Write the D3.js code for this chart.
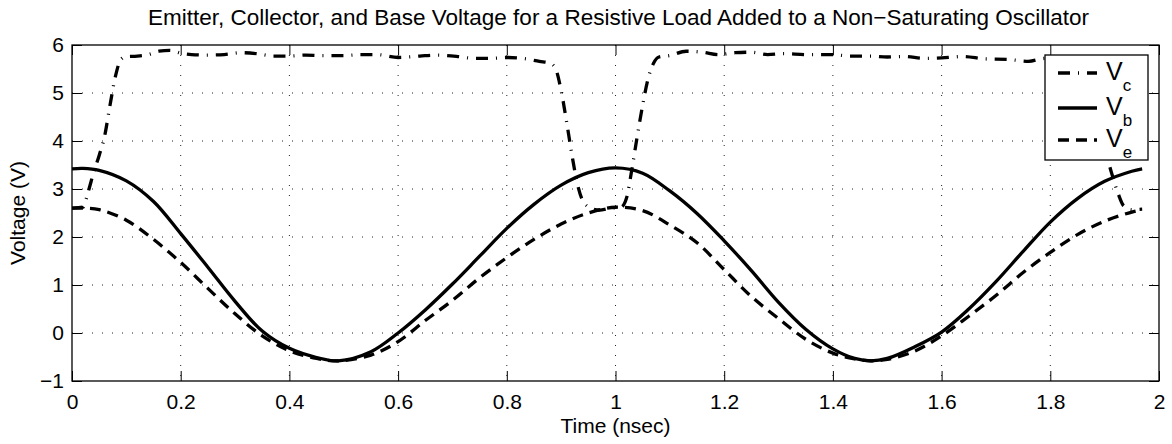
<!DOCTYPE html>
<html>
<head>
<meta charset="utf-8">
<script src="https://cdn.jsdelivr.net/npm/d3@7"></script>
<style>
  body { margin: 0; background: #fff; }
  text { font-family: "Liberation Sans", Arial, Helvetica, sans-serif; fill: #000; }
</style>
</head>
<body>
<div id="chart"></div>
<script>
// Data
const vcTime = [0, 0.02, 0.03, 0.04, 0.05, 0.06, 0.07, 0.08, 0.09, 0.1, 0.12, 0.14, 0.16, 0.18, 0.2, 0.22, 0.25, 0.28, 0.31, 0.34, 0.37, 0.4, 0.43, 0.46, 0.5, 0.53, 0.56, 0.6, 0.64, 0.67, 0.71, 0.74, 0.77, 0.8, 0.83, 0.86, 0.88, 0.89, 0.9, 0.91, 0.92, 0.93, 0.94, 0.955, 0.97, 0.99, 1.01, 1.02, 1.03, 1.04, 1.05, 1.06, 1.07, 1.08, 1.1, 1.13, 1.16, 1.19, 1.22, 1.25, 1.28, 1.31, 1.35, 1.4, 1.43, 1.47, 1.5, 1.53, 1.57, 1.6, 1.64, 1.68, 1.72, 1.76, 1.79, 1.82, 1.86, 1.875, 1.885, 1.895, 1.905, 1.915, 1.925, 1.935, 1.95, 1.969];
const vcValue = [2.6, 2.62, 2.95, 3.35, 3.7, 4.1, 4.75, 5.35, 5.7, 5.76, 5.77, 5.8, 5.87, 5.89, 5.83, 5.8, 5.79, 5.8, 5.84, 5.82, 5.77, 5.77, 5.79, 5.78, 5.78, 5.8, 5.8, 5.74, 5.77, 5.79, 5.76, 5.72, 5.72, 5.74, 5.72, 5.66, 5.62, 5.5, 5.05, 4.4, 3.7, 3.1, 2.75, 2.6, 2.56, 2.6, 2.62, 2.8, 3.4, 4.1, 4.75, 5.3, 5.62, 5.75, 5.78, 5.87, 5.85, 5.8, 5.84, 5.85, 5.8, 5.82, 5.8, 5.8, 5.77, 5.77, 5.75, 5.76, 5.72, 5.73, 5.76, 5.71, 5.7, 5.66, 5.72, 5.7, 5.65, 5.6, 5.4, 4.6, 3.7, 3.25, 2.9, 2.65, 2.57, 2.58];

const vTime = [0, 0.02, 0.05, 0.1, 0.15, 0.2, 0.25, 0.3, 0.35, 0.4, 0.45, 0.49, 0.55, 0.6, 0.65, 0.7, 0.75, 0.8, 0.85, 0.9, 0.95, 1.0, 1.05, 1.1, 1.15, 1.2, 1.25, 1.3, 1.35, 1.4, 1.44, 1.47, 1.5, 1.55, 1.6, 1.65, 1.7, 1.75, 1.8, 1.85, 1.9, 1.95, 1.969];
const vbValue = [3.42, 3.43, 3.39, 3.17, 2.74, 2.07, 1.37, 0.66, 0.04, -0.32, -0.51, -0.58, -0.39, 0.0, 0.48, 1.02, 1.6, 2.18, 2.68, 3.08, 3.34, 3.44, 3.33, 2.96, 2.49, 1.92, 1.3, 0.64, 0.08, -0.33, -0.53, -0.58, -0.53, -0.29, 0.02, 0.5, 1.07, 1.7, 2.31, 2.8, 3.16, 3.37, 3.42];
const veValue = [2.6, 2.6, 2.57, 2.35, 1.95, 1.47, 0.93, 0.4, -0.06, -0.37, -0.53, -0.58, -0.46, -0.18, 0.26, 0.68, 1.15, 1.57, 1.95, 2.27, 2.5, 2.62, 2.55, 2.25, 1.88, 1.32, 0.76, 0.3, -0.13, -0.42, -0.54, -0.58, -0.55, -0.38, -0.06, 0.35, 0.78, 1.26, 1.68, 2.05, 2.33, 2.52, 2.57];

const xTicks = [0, 0.2, 0.4, 0.6, 0.8, 1, 1.2, 1.4, 1.6, 1.8, 2];
const yTicks = [-1, 0, 1, 2, 3, 4, 5, 6];
const legendNames = ["c", "b", "e"];

const W = 1172, H = 444;
const margin = { top: 45, right: 13, bottom: 63, left: 72 };
const width = W - margin.left - margin.right,
      height = H - margin.top - margin.bottom;

const svg = d3.select("#chart")
  .append("svg")
    .attr("width", W)
    .attr("height", H);

const g = svg.append("g")
    .attr("transform", `translate(${margin.left},${margin.top})`);

const x = d3.scaleLinear().domain([0, 2]).range([0, width]);
const y = d3.scaleLinear().domain([-1, 6]).range([height, 0]);

const fmt = d => d < 0 ? "\u2212" + Math.abs(d) : String(d);

// grid
g.append("g").selectAll("line")
  .data(xTicks.slice(1, -1))
  .join("line")
    .attr("x1", d => x(d)).attr("x2", d => x(d))
    .attr("y1", 0).attr("y2", height)
    .attr("stroke", "#222").attr("stroke-width", 1)
    .attr("stroke-dasharray", "1,9");
g.append("g").selectAll("line")
  .data(yTicks.slice(1, -1))
  .join("line")
    .attr("x1", 0).attr("x2", width)
    .attr("y1", d => y(d)).attr("y2", d => y(d))
    .attr("stroke", "#222").attr("stroke-width", 1)
    .attr("stroke-dasharray", "1,9");

// axes, ticks pointing in
g.append("g")
  .attr("transform", `translate(0,${height})`)
  .call(d3.axisBottom(x).tickValues(xTicks).tickFormat(fmt).tickSizeInner(-10).tickSizeOuter(0).tickPadding(13));
g.append("g")
  .call(d3.axisLeft(y).tickValues(yTicks).tickFormat(fmt).tickSizeInner(-10).tickSizeOuter(0).tickPadding(8));
g.append("g")
  .call(d3.axisTop(x).tickValues(xTicks).tickFormat("").tickSizeInner(-10).tickSizeOuter(0));
g.append("g")
  .attr("transform", `translate(${width},0)`)
  .call(d3.axisRight(y).tickValues(yTicks).tickFormat("").tickSizeInner(-10).tickSizeOuter(0));

g.selectAll(".domain").remove();
g.selectAll(".tick line").attr("stroke", "#000").attr("stroke-width", 1);
g.selectAll(".tick text").style("font-size", "21px").attr("fill", "#000");

// series
const smooth = d3.line().curve(d3.curveCatmullRom.alpha(0.5));
const steep = d3.line().curve(d3.curveMonotoneX);
const series = [
  { name: "c", t: vcTime, v: vcValue, dash: "12,8,1,8", gen: steep },
  { name: "b", t: vTime, v: vbValue, dash: null, gen: smooth },
  { name: "e", t: vTime, v: veValue, dash: "11,7", gen: smooth }
];
series.forEach(s => {
  g.append("path")
    .attr("d", s.gen(s.t.map((t, i) => [x(t), y(s.v[i])])))
    .attr("fill", "none")
    .attr("stroke", "#000")
    .attr("stroke-width", 3.3)
    .attr("stroke-linecap", "butt")
    .attr("stroke-linejoin", "round")
    .attr("stroke-dasharray", s.dash);
});

// frame
g.append("rect")
  .attr("width", width).attr("height", height)
  .attr("fill", "none").attr("stroke", "#000").attr("stroke-width", 1.3);

// legend
const lg = svg.append("g").attr("transform", "translate(1045,55)");
lg.append("rect")
  .attr("width", 103).attr("height", 105)
  .attr("fill", "#fff").attr("stroke", "#000").attr("stroke-width", 1.3);
const rowY = [18, 53, 85];
legendNames.forEach((n, i) => {
  const s = series[i];
  lg.append("line")
    .attr("x1", 13).attr("x2", 52)
    .attr("y1", rowY[i]).attr("y2", rowY[i])
    .attr("stroke", "#000").attr("stroke-width", 3.3)
    .attr("stroke-dasharray", s.dash);
  const t = lg.append("text")
    .attr("x", 61).attr("y", rowY[i] + 7)
    .style("font-size", "25px");
  t.append("tspan").text("V");
  t.append("tspan").attr("dy", 11).style("font-size", "17px").text(n);
});

// labels
svg.append("text")
  .attr("x", margin.left + width / 2 + 3).attr("y", 25)
  .attr("text-anchor", "middle").style("font-size", "22.5px")
  .text("Emitter, Collector, and Base Voltage for a Resistive Load Added to a Non\u2212Saturating Oscillator");
svg.append("text")
  .attr("x", margin.left + width / 2).attr("y", 433)
  .attr("text-anchor", "middle").style("font-size", "21px")
  .text("Time (nsec)");
svg.append("text")
  .attr("transform", `translate(25,${margin.top + height / 2}) rotate(-90)`)
  .attr("text-anchor", "middle").style("font-size", "21px")
  .text("Voltage (V)");
</script>
</body>
</html>
